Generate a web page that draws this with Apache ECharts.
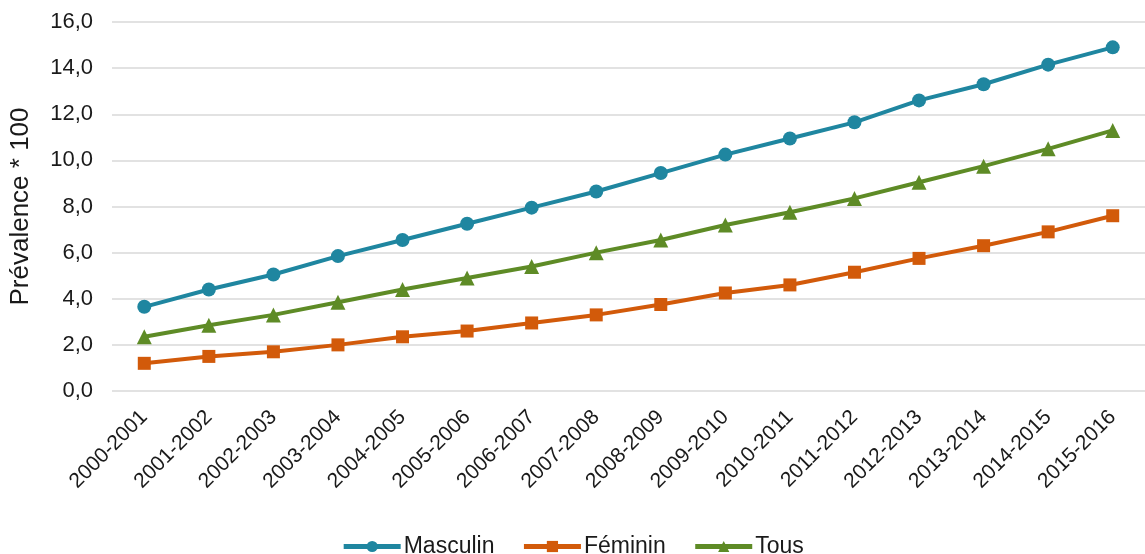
<!DOCTYPE html>
<html>
<head>
<meta charset="utf-8">
<script src="https://cdn.jsdelivr.net/npm/echarts@6/dist/echarts.min.js"></script>
<style>
  html, body { margin: 0; padding: 0; background: #ffffff; }
  #chart { width: 1145px; height: 554px; }
</style>
</head>
<body>
<div id="chart"></div>
<script>
// Seasons on the category axis
const categories = [
  '2000-2001', '2001-2002', '2002-2003', '2003-2004', '2004-2005', '2005-2006',
  '2006-2007', '2007-2008', '2008-2009', '2009-2010', '2010-2011', '2011-2012',
  '2012-2013', '2013-2014', '2014-2015', '2015-2016'
];

// Prevalence (* 100) by sex
const masculin = [3.65, 4.4, 5.05, 5.85, 6.55, 7.25, 7.95, 8.65, 9.45, 10.25, 10.95, 11.65, 12.6, 13.3, 14.15, 14.9];
const feminin  = [1.2, 1.5, 1.7, 2.0, 2.35, 2.6, 2.95, 3.3, 3.75, 4.25, 4.6, 5.15, 5.75, 6.3, 6.9, 7.6];
const tous     = [2.35, 2.85, 3.3, 3.85, 4.4, 4.9, 5.4, 6.0, 6.55, 7.2, 7.75, 8.35, 9.05, 9.75, 10.5, 11.3];

const yTicks = { min: 0, max: 16, interval: 2 };

const colors = { masculin: '#1f86a0', feminin: '#d25a0a', tous: '#5e8b26' };
const fontFamily = '"Liberation Sans", Arial, sans-serif';
const textColor = '#1a1a1a';

function lineSeries(name, data, color, symbol, size) {
  return {
    name: name,
    type: 'line',
    data: data,
    symbol: symbol,
    symbolSize: size,
    showSymbol: true,
    lineStyle: { color: color, width: 4 },
    itemStyle: { color: color, borderWidth: 0 },
    emphasis: { disabled: true },
    animation: false
  };
}

const chart = echarts.init(document.getElementById('chart'), null, { renderer: 'canvas' });
chart.setOption({
  backgroundColor: '#ffffff',
  textStyle: { fontFamily: fontFamily },
  grid: { left: 112, right: -8, top: 22, bottom: 163, containLabel: false },
  legend: {
    top: 530,
    left: 'center',
    itemWidth: 57,
    itemHeight: 14,
    itemGap: 27,
    lineStyle: { width: 5 },
    textStyle: { fontSize: 23, color: textColor, fontFamily: fontFamily, padding: [0, 0, 0, -2] },
    data: ['Masculin', 'Féminin', 'Tous']
  },
  xAxis: {
    type: 'category',
    data: categories,
    boundaryGap: true,
    axisLine: { show: false },
    axisTick: { show: false },
    axisLabel: {
      rotate: 45,
      interval: 0,
      margin: 23,
      fontSize: 21,
      color: textColor,
      fontFamily: fontFamily
    }
  },
  yAxis: {
    type: 'value',
    min: yTicks.min,
    max: yTicks.max,
    interval: yTicks.interval,
    name: 'Prévalence * 100',
    nameLocation: 'middle',
    nameGap: 78,
    nameRotate: 90,
    nameTextStyle: { fontSize: 26, color: textColor, fontFamily: fontFamily },
    axisLine: { show: false },
    axisTick: { show: false },
    splitLine: { lineStyle: { color: '#d9d9d9', width: 1.5 } },
    axisLabel: {
      margin: 19,
      fontSize: 22,
      color: textColor,
      fontFamily: fontFamily,
      formatter: v => v.toFixed(1).replace('.', ',')
    }
  },
  series: [
    lineSeries('Masculin', masculin, colors.masculin, 'circle', 14),
    lineSeries('Féminin', feminin, colors.feminin, 'rect', 13),
    lineSeries('Tous', tous, colors.tous, 'triangle', 15)
  ]
});
</script>
</body>
</html>
